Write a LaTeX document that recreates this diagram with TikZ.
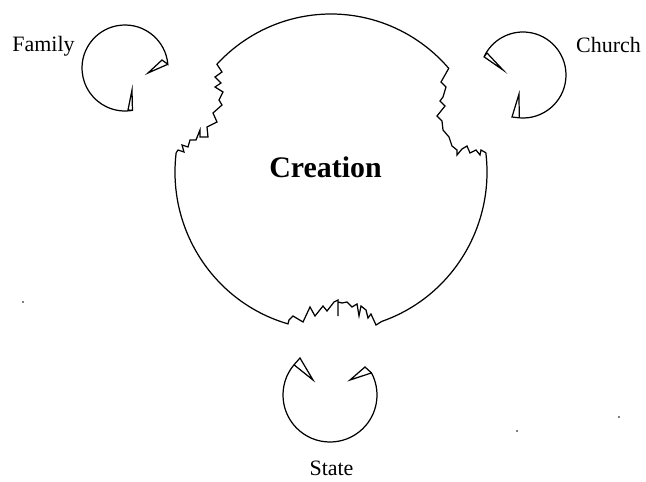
\documentclass[tikz,border=0pt]{standalone}
\usepackage{fontspec}
\setmainfont{Liberation Serif}
\usepackage{tikz}
\usetikzlibrary{calc,positioning}

\begin{document}
\begin{tikzpicture}[
  x=0.02cm, y=0.02cm,
  outline/.style={line width=0.7pt, line join=miter},
  tag/.style={font=\fontsize{12.5}{15}\selectfont, inner sep=0pt, anchor=base},
  title/.style={font=\fontsize{17}{20}\selectfont\bfseries, inner sep=0pt, anchor=base},
  speck/.style={fill=black, draw=none}
]
  \useasboundingbox (0,0) rectangle (646,481);

  % Creation, with the three pieces torn out
  \coordinate (C) at (331,309);
  \draw[outline] ($(C)+(41:156 and 158)$)
      arc[start angle=41, end angle=137, x radius=156, y radius=158]
      -- (222,409) -- (215,404) -- (221,398) -- (215,394) -- (223,389)
      -- (219,381) -- (222,376) -- (213,368) -- (217,359) -- (207,354)
      -- (208,344) -- (200,344) -- (200,351) -- (196,341) -- (190,341)
      -- (188,334) -- (182,336) -- (184,329) -- (178,331)
      -- ($(C)+(173:156 and 158)$)
      arc[start angle=173, end angle=254, x radius=156, y radius=158]
      -- (289,161) -- (293,165) -- (303,159) -- (310,174) -- (315,165)
      -- (323,175) -- (327,170) -- (334,179) -- (338,181) -- (338,165)
      -- (338,179) -- (342,178) -- (347,179) -- (352,174) -- (357,177)
      -- (359,165) -- (361,175) -- (366,171) -- (368,163) -- (371,167)
      -- (376,156)
      -- ($(C)+(-71:156 and 158)$)
      arc[start angle=-71, end angle=7, x radius=156, y radius=158]
      -- (481,331) -- (480,326) -- (476,331) -- (470,328) -- (467,335)
      -- (462,332) -- (457,326) -- (457,331) -- (452,335) -- (449,344)
      -- (443,351) -- (442,360) -- (437,365) -- (445,375) -- (440,380)
      -- (443,384) -- (446,394) -- (441,399) -- cycle;
  \node[title] (creation) at (325.5,304) {Creation};

  % Family
  \coordinate (F) at (125,413);
  \draw[outline] ($(F)+(5:43)$) coordinate (fam a) -- (148,408) -- (162,421) -- (fam a)
      arc[start angle=5, end angle=280, radius=43] coordinate (fam b)
      -- (132,391) -- (128,371) -- (fam b);
  \node[tag] (family) at (43.5,429) {Family};

  % Church
  \coordinate (Ch) at (523,406);
  \draw[outline] ($(Ch)+(-95:43)$) coordinate (ch a) -- (519,387) -- (512,364) -- (ch a)
      arc[start angle=-95, end angle=155, radius=43] coordinate (ch b)
      -- (503,411) -- (487,428) -- (ch b);
  \node[tag] (church) at (608.5,428) {Church};

  % State
  \coordinate (S) at (330,86);
  \draw[outline] ($(S)+(140:47)$) coordinate (st a) -- (313,101) -- (300,123) -- (st a)
      arc[start angle=140, end angle=388, radius=47] coordinate (st b)
      -- (350,101) -- (365,114) -- (st b);
  \node[tag] (state) at (331.5,6) {State};

  % stray specks
  \fill[speck] (23,179) circle (0.9);
  \fill[speck] (517,50) circle (0.9);
  \fill[speck] (619,64) circle (0.9);
\end{tikzpicture}
\end{document}
